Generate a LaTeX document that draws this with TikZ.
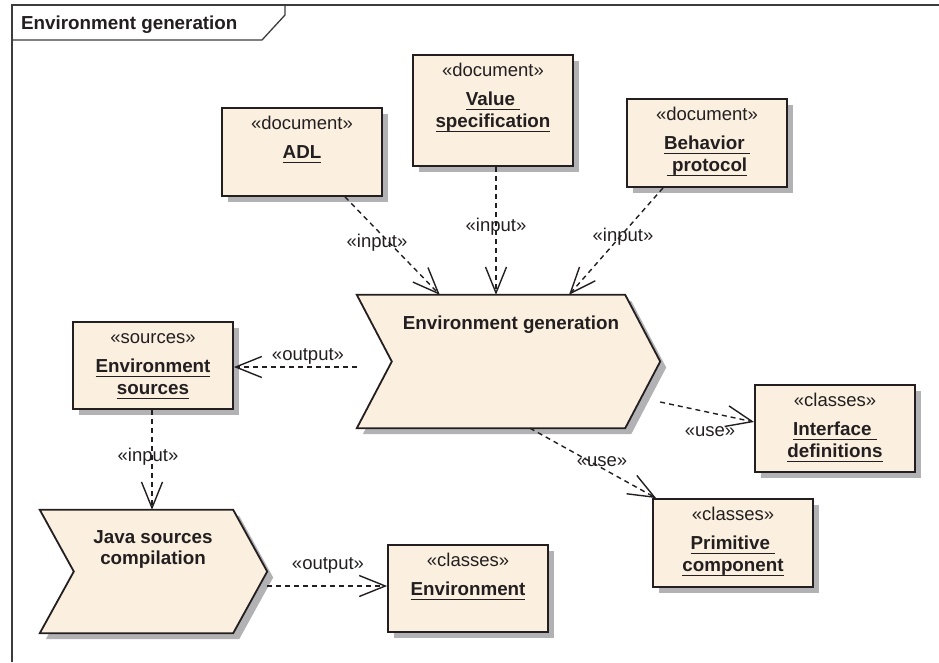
\documentclass[tikz,border=0pt]{standalone}
\usepackage{fontspec}
\setmainfont{Liberation Sans}
\usetikzlibrary{arrows.meta}
\definecolor{boxfill}{RGB}{251,240,223}
\definecolor{shadowgray}{RGB}{178,178,181}
\definecolor{ink}{RGB}{35,31,32}
\definecolor{framegray}{RGB}{60,60,60}
\newcommand{\undl}[1]{\setbox0=\hbox{#1}\leavevmode\rlap{\rule[-5.2pt]{\wd0}{1.4pt}}\box0}
\begin{document}
\begin{tikzpicture}[x=1pt,y=-1pt,
  every node/.style={text=ink},
  box/.style={draw=ink, line width=1.8pt, fill=boxfill, minimum width=160pt, inner sep=0pt},
  chev/.style={draw=ink, line width=1.8pt, fill=boxfill, line join=miter},
  shad/.style={fill=shadowgray},
  ster/.style={anchor=base, inner sep=0pt, font=\fontsize{18.5}{22}\selectfont},
  nm/.style={anchor=base, inner sep=0pt, font=\fontsize{18.8}{22}\selectfont\bfseries},
  lbl/.style={inner sep=0pt, font=\fontsize{18.5}{22}\selectfont},
  dep/.style={draw=ink, line width=1.4pt, dash pattern=on 5pt off 4pt,
    -{Straight Barb[length=26pt, width=21pt, line width=1.4pt]}},
]
\useasboundingbox (0,0) rectangle (939,662);
% frame
\draw[framegray, line width=1.3pt] (12,662) -- (12,5) -- (939,5);
\draw[framegray, line width=1.3pt] (12,40) -- (262,40) -- (285,15) -- (285,5);
\node[nm, anchor=base west] (title) at (21,29.5) {Environment generation};

% box shadows (centre x / centre y / height), boxes are 160 wide
\foreach \cx/\cy/\hh in {302/152/88, 493/110.5/111, 707/143/88, 153/365.5/87,
                         835/428.5/87, 733/543/88, 468/588.5/87}
  \fill[shad] ({\cx-80+6},{\cy-\hh/2+6}) rectangle ({\cx+80+6},{\cy+\hh/2+6});

% document boxes
\node[box, minimum height=88pt] (adl) at (302,152) {};
\node[ster] (adl-s) at ([yshift=-22pt]adl.north) {«document»};
\node[nm] (adl-n) at ([yshift=-51pt]adl.north) {\undl{ADL}};

\node[box, minimum height=111pt] (val) at (493,110.5) {};
\node[ster] (val-s) at ([yshift=-22pt]val.north) {«document»};
\node[nm] (val-n1) at ([yshift=-51pt]val.north) {\undl{Value\ }};
\node[nm] (val-n2) at ([yshift=-73pt]val.north) {\undl{specification}};

\node[box, minimum height=88pt] (beh) at (707,143) {};
\node[ster] (beh-s) at ([yshift=-22pt]beh.north) {«document»};
\node[nm] (beh-n1) at ([yshift=-51pt]beh.north) {\undl{Behavior\ }};
\node[nm] (beh-n2) at ([yshift=-73pt]beh.north) {\undl{\ protocol}};

\node[box, minimum height=87pt] (src) at (153,365.5) {};
\node[ster] (src-s) at ([yshift=-22pt]src.north) {«sources»};
\node[nm] (src-n1) at ([yshift=-51pt]src.north) {\undl{Environment}};
\node[nm] (src-n2) at ([yshift=-73pt]src.north) {\undl{sources}};

\node[box, minimum height=87pt] (intf) at (835,428.5) {};
\node[ster] (intf-s) at ([yshift=-22pt]intf.north) {«classes»};
\node[nm] (intf-n1) at ([yshift=-51pt]intf.north) {\undl{Interface\ }};
\node[nm] (intf-n2) at ([yshift=-73pt]intf.north) {\undl{definitions}};

\node[box, minimum height=88pt] (prim) at (733,543) {};
\node[ster] (prim-s) at ([yshift=-22pt]prim.north) {«classes»};
\node[nm] (prim-n1) at ([yshift=-51pt]prim.north) {\undl{Primitive\ }};
\node[nm] (prim-n2) at ([yshift=-73pt]prim.north) {\undl{component}};

\node[box, minimum height=87pt] (env) at (468,588.5) {};
\node[ster] (env-s) at ([yshift=-22pt]env.north) {«classes»};
\node[nm] (env-n) at ([yshift=-51pt]env.north) {\undl{Environment}};

% activities (chevrons): invisible frames, then shadow, then shape
\node[inner sep=0pt, minimum width=303pt, minimum height=133pt] (eg) at (508.5,361.5) {};
\fill[shad] ([shift={(6pt,-6pt)}]eg.north west) -- ([shift={(-29pt,-6pt)}]eg.north east)
  -- ([shift={(6pt,-6pt)}]eg.east) -- ([shift={(-29pt,-6pt)}]eg.south east)
  -- ([shift={(6pt,-6pt)}]eg.south west) -- ([shift={(41pt,-6pt)}]eg.west) -- cycle;
\filldraw[chev] (eg.north west) -- ([xshift=-35pt]eg.north east) -- (eg.east)
  -- ([xshift=-35pt]eg.south east) -- (eg.south west) -- ([xshift=35pt]eg.west) -- cycle;
\node[nm] (eg-t) at (511,329) {Environment generation};

\node[inner sep=0pt, minimum width=227pt, minimum height=123pt] (java) at (153.5,571.5) {};
\fill[shad] ([shift={(6pt,-6pt)}]java.north west) -- ([shift={(-28pt,-6pt)}]java.north east)
  -- ([shift={(6pt,-6pt)}]java.east) -- ([shift={(-28pt,-6pt)}]java.south east)
  -- ([shift={(6pt,-6pt)}]java.south west) -- ([shift={(40pt,-6pt)}]java.west) -- cycle;
\filldraw[chev] (java.north west) -- ([xshift=-34pt]java.north east) -- (java.east)
  -- ([xshift=-34pt]java.south east) -- (java.south west) -- ([xshift=34pt]java.west) -- cycle;
\node[nm] (java-t1) at (153,543) {Java sources};
\node[nm] (java-t2) at (153,564) {compilation};

% connectors
\draw[dep] ([xshift=43pt]adl.south) -- ([xshift=83pt]eg.north west);
\node[lbl] (l-in1) at (377,243) {«input»};
\draw[dep] ([xshift=3pt]val.south) -- ([xshift=3pt]val.south |- eg.north);
\node[lbl] (l-in2) at (496,227) {«input»};
\draw[dep] ([xshift=-44pt]beh.south) -- ([xshift=60.5pt]eg.north);
\node[lbl] (l-in3) at (623,237) {«input»};

\coordinate (egw) at ([yshift=-5.5pt]eg.west);
\draw[dep] (egw) -- (egw -| src.east);
\node[lbl] (l-out1) at (308,356) {«output»};

\draw[dep] ([xshift=-1pt]src.south) -- ([xshift=-1pt]src.south |- java.north);
\node[lbl] (l-in4) at (148,457) {«input»};

\coordinate (jo) at ([yshift=-14.5pt]java.east);
\draw[dep] (jo) -- (jo -| env.west);
\node[lbl] (l-out2) at (328,565) {«output»};

\draw[dep] ([yshift=-40.5pt]eg.east) -- ([yshift=6.5pt]intf.west);
\node[lbl] (l-use1) at (710,432) {«use»};
\draw[dep] ([xshift=21.5pt]eg.south) -- ([xshift=4pt]prim.north west);
\node[lbl] (l-use2) at (602,462) {«use»};
\end{tikzpicture}
\end{document}
